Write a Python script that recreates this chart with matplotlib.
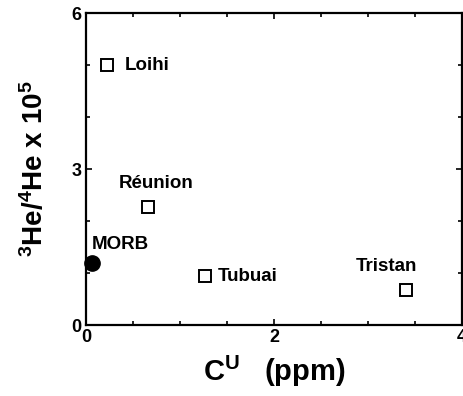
import matplotlib.pyplot as plt
from matplotlib.ticker import MultipleLocator

plt.rcParams['font.family'] = ['Liberation Sans', 'DejaVu Sans']
plt.rcParams['font.weight'] = 'bold'
plt.rcParams['mathtext.fontset'] = 'custom'
plt.rcParams['mathtext.rm'] = 'Liberation Sans:bold'
plt.rcParams['mathtext.bf'] = 'Liberation Sans:bold'
plt.rcParams['mathtext.default'] = 'bf'

# hotspot data (open squares)
names = ['Loihi', 'Réunion', 'Tubuai', 'Tristan']
cu = [0.23, 0.66, 1.27, 3.40]
he = [5.0, 2.27, 0.94, 0.67]
label_x = [0.41, 0.35, 1.40, 2.87]
label_y = [5.0, 2.73, 0.94, 1.13]

# MORB (filled circle)
morb_cu = [0.07]
morb_he = [1.19]
morb_label = (0.06, 1.55)

fig = plt.figure(figsize=(4.64, 3.96), dpi=100)
ax = fig.add_axes([0.185, 0.179, 0.811, 0.788])

ax.plot(cu, he, 's', ms=9, mfc='white', mec='black', mew=1.4, ls='none')
ax.plot(morb_cu, morb_he, 'o', ms=11, color='black', clip_on=False)

for n, x, y in zip(names, label_x, label_y):
    ax.text(x, y, n, ha='left', va='center', fontsize=13.5, fontweight='bold')
ax.text(morb_label[0], morb_label[1], 'MORB', ha='left', va='center',
        fontsize=13.5, fontweight='bold')

ax.set_xlim(0, 4)
ax.set_ylim(0, 6)
ax.xaxis.set_major_locator(MultipleLocator(2))
ax.xaxis.set_minor_locator(MultipleLocator(0.5))
ax.yaxis.set_major_locator(MultipleLocator(3))
ax.yaxis.set_minor_locator(MultipleLocator(1))
ax.tick_params(which='both', direction='in', top=True, right=True,
               labelsize=13, width=1.2)
ax.tick_params(which='major', length=4, pad=3)
ax.tick_params(which='minor', length=3)
for s in ax.spines.values():
    s.set_linewidth(1.6)

ax.set_xlabel(r'C$^{U}$   (ppm)', fontsize=21, fontweight='bold')
ax.xaxis.set_label_coords(0.5, -0.093)
ax.set_ylabel(r'$^{3}$He/$^{4}$He x 10$^{5}$', fontsize=20, fontweight='bold')
ax.yaxis.set_label_coords(-0.097, 0.5)

fig.savefig('out.png', dpi=100)
